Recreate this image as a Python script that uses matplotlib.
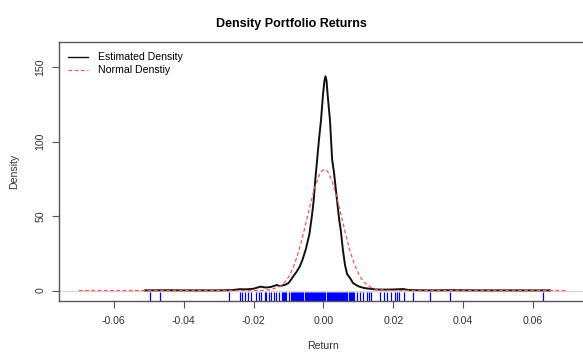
import numpy as np
import matplotlib.pyplot as plt

plt.rcParams['font.family'] = ['Liberation Sans', 'DejaVu Sans']

# kernel density of portfolio returns
kde_x = [-0.0511, -0.045, -0.040, -0.030, -0.026, -0.024, -0.022, -0.020, -0.018,
         -0.0165, -0.015, -0.0134, -0.0125, -0.0110, -0.0100, -0.0095, -0.0087,
         -0.0077, -0.0068, -0.0060, -0.0050, -0.0040, -0.0033, -0.0028, -0.0023,
         -0.0019, -0.0012, -0.0007, -0.0001, 0.0003, 0.0006, 0.0009, 0.0012,
         0.0019, 0.0025, 0.0030, 0.0038, 0.0045, 0.0050, 0.0056, 0.0062, 0.0068,
         0.0076, 0.0085, 0.0095, 0.0104, 0.0115, 0.0124, 0.0140, 0.0152, 0.0170,
         0.0200, 0.0228, 0.0245, 0.030, 0.036, 0.045, 0.055, 0.0648]
kde_y = [0.1, 0.2, 0.1, 0.1, 0.3, 0.9, 0.8, 1.2, 2.6,
         2.0, 2.4, 3.7, 3.0, 3.8, 5.0, 6.5, 9.3,
         12.5, 16.0, 20.5, 28.0, 38.0, 50.0, 60.0, 75.0,
         85.0, 103.0, 114.0, 132.0, 141.0, 144.0, 141.0, 132.0,
         114.0, 88.0, 80.0, 63.0, 48.0, 40.0, 27.0, 17.0, 11.0,
         8.5, 5.0, 3.5, 2.5, 1.8, 1.4, 1.0, 0.7, 0.6,
         0.7, 1.0, 0.3, 0.1, 0.2, 0.1, 0.1, 0.1]

# fitted normal density
norm_x = [-0.070, -0.030, -0.020, -0.0175, -0.015, -0.0125, -0.01125, -0.010,
          -0.00875, -0.0075, -0.00625, -0.005, -0.00375, -0.0025, -0.00125,
          -0.0005, 0.0003, 0.0011, 0.00125, 0.0025, 0.00375, 0.005, 0.00625,
          0.0075, 0.00875, 0.010, 0.01125, 0.0125, 0.01375, 0.015, 0.0175,
          0.020, 0.030, 0.070]
norm_y = [0.0, 0.0, 0.0, 0.1, 0.6, 2.7, 5.1, 8.9,
          14.8, 23.0, 33.3, 45.3, 57.8, 69.0, 77.4,
          80.3, 81.4, 80.3, 79.9, 73.4, 63.5, 51.3, 39.0,
          27.6, 18.4, 11.5, 6.7, 3.7, 1.9, 0.9, 0.2,
          0.03, 0.0, 0.0]

# observed returns for the rug
rug = [-0.0496, -0.0467, -0.0270, -0.0240, -0.0232, -0.0224, -0.0215, -0.0206,
       -0.0192, -0.0185, -0.0178, -0.0168, -0.0164, -0.0155, -0.0150, -0.0140,
       -0.0136, -0.0127, -0.0118, -0.0115, -0.0112, -0.0109, -0.0106, -0.0099,
       -0.0093, -0.0090, -0.0087, -0.0084, -0.0081, -0.0078, -0.0075, -0.0072,
       -0.0069, -0.0066, -0.0063, -0.0060, -0.0057, -0.0054, -0.0051, -0.0048,
       -0.0045, -0.0042, -0.0039, -0.0036, -0.0033, -0.0030, -0.0027, -0.0024,
       -0.0021, -0.0018, -0.0015, -0.0012, -0.0009, -0.0006, -0.0003, 0.0000,
       0.0003, 0.0006, 0.0009, 0.0012, 0.0015, 0.0018, 0.0021, 0.0024, 0.0027,
       0.0030, 0.0033, 0.0036, 0.0039, 0.0042, 0.0045, 0.0048, 0.0051, 0.0054,
       0.0057, 0.0060, 0.0063, 0.0066, 0.0069, 0.0072, 0.0075, 0.0078, 0.0081,
       0.0084, 0.0088, 0.0097, 0.0104, 0.0114, 0.0125, 0.0131, 0.0135, 0.0162,
       0.0173, 0.0183, 0.0193, 0.0205, 0.0211, 0.0217, 0.0230, 0.0257, 0.0305,
       0.0361, 0.0629]

fig = plt.figure(figsize=(5.83, 3.52), dpi=100)
ax = fig.add_axes([0.1017, 0.1457, 0.906, 0.7341])

ax.axhline(0, color='#d8d8d8', lw=1, zorder=1)
ax.plot(kde_x, kde_y, color='#111111', lw=1.4, label='Estimated Density', zorder=3)
ax.plot(norm_x, norm_y, color='#ff5555', lw=0.9, ls=(0, (3, 2)),
        label='Normal Denstiy', zorder=4)
ax.vlines(rug, 0, 0.035, transform=ax.get_xaxis_transform(), color='blue',
          lw=0.9, zorder=2)

ax.set_xlim(-0.0756, 0.0756)
ax.set_ylim(-6.85, 166.8)
ax.set_xticks([-0.06, -0.04, -0.02, 0.0, 0.02, 0.04, 0.06])
ax.set_xticklabels(['-0.06', '-0.04', '-0.02', '0.00', '0.02', '0.04', '0.06'])
ax.set_yticks([0, 50, 100, 150])
for s in ax.spines.values():
    s.set_color('#555555')
    s.set_linewidth(1)
ax.tick_params(direction='out', length=5, width=0.8, color='#555555',
               labelsize=7.6, labelcolor='#333333')
ax.tick_params(axis='x', pad=6)
ax.tick_params(axis='y', pad=5)
plt.setp(ax.get_yticklabels(), rotation=90, va='center')

ax.set_xlabel('Return', fontsize=7.6, color='#333333', labelpad=11)
ax.set_ylabel('Density', fontsize=7.6, color='#333333', labelpad=12)
fig.suptitle('Density Portfolio Returns', fontsize=9, fontweight='bold', y=0.95)

leg = ax.legend(loc='upper left', frameon=False, fontsize=7.6, handlelength=1.9,
                handletextpad=0.9, labelspacing=0.28, borderaxespad=0.3,
                bbox_to_anchor=(0.003, 0.99))
leg.get_lines()[0].set_linewidth(1.0)

fig.savefig('out.png', dpi=100)
